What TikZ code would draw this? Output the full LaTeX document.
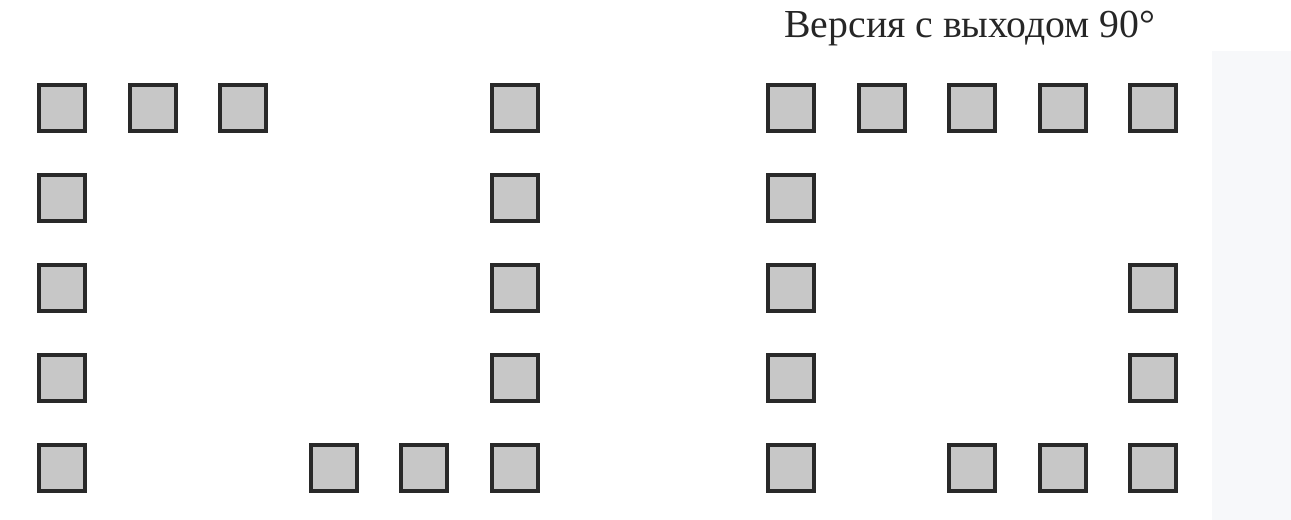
\documentclass[tikz,border=0pt]{standalone}
\usepackage{fontspec}
\setmainfont{Liberation Serif}
\begin{document}
\begin{tikzpicture}
\tikzstyle{pad}=[draw=black!84,fill=black!22!white,line width=0.08cm,minimum size=0.92cm,inner sep=0pt];
\definecolor{bandgray}{HTML}{F7F8FA}

\useasboundingbox (0,0) rectangle (25.82,10.4);
\fill[bandgray] (24.24,0) rectangle (25.82,9.38); % side band

\def \dx{1.812};
\def \dy{1.8};
\def \ytop{8.24};

% left ring
\def \xl{1.24};
\foreach \c in {0,1,2,5} \node[pad] (l-1-\c) at (\xl+\c*\dx,\ytop) {};
\foreach \r in {2,3,4} {
  \node[pad] (l-\r-0) at (\xl,\ytop-\r*\dy+\dy) {};
  \node[pad] (l-\r-5) at (\xl+5*\dx,\ytop-\r*\dy+\dy) {};
}
\foreach \c in {0,3,4,5} \node[pad] (l-5-\c) at (\xl+\c*\dx,\ytop-4*\dy) {};

% right ring, 90 degree exit
\def \xr{15.82};
\foreach \c in {0,...,4} \node[pad] (r-1-\c) at (\xr+\c*\dx,\ytop) {};
\node[pad] (r-2-0) at (\xr,\ytop-\dy) {};
\foreach \r in {3,4} {
  \node[pad] (r-\r-0) at (\xr,\ytop-\r*\dy+\dy) {};
  \node[pad] (r-\r-4) at (\xr+4*\dx,\ytop-\r*\dy+\dy) {};
}
\foreach \c in {0,2,3,4} \node[pad] (r-5-\c) at (\xr+\c*\dx,\ytop-4*\dy) {};

\node[anchor=base,text=black!85,font=\fontsize{22.6}{26}\selectfont] (title) at (19.4,9.64) {Версия с выходом 90°};

\end{tikzpicture}
\end{document}
